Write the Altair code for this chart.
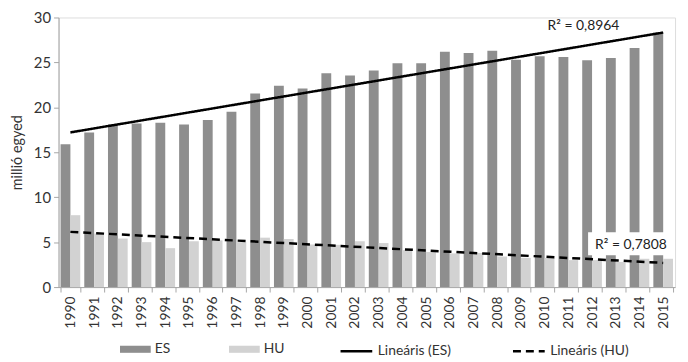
import altair as alt
import pandas as pd

years = list(range(1990, 2016))
es = [15.9, 17.2, 18.1, 18.2, 18.3, 18.1, 18.6, 19.5, 21.55, 22.4, 22.1, 23.8, 23.55,
      24.1, 24.9, 24.9, 26.2, 26.05, 26.3, 25.3, 25.7, 25.6, 25.25, 25.5, 26.6, 28.3]
hu = [8.0, 5.95, 5.4, 5.0, 4.33, 5.1, 5.2, 5.0, 5.5, 5.35, 4.75, 4.7, 5.1,
      4.9, 4.1, 3.9, 3.75, 3.8, 3.4, 3.25, 3.25, 3.0, 3.0, 2.8, 3.15, 3.15]
series = ["ES", "HU"]
trends = ["Lineáris (ES)", "Lineáris (HU)"]

ann_labels = ["R² = 0,8964", "R² = 0,7808"]
ann_years = [2010, 2012]
ann_values = [29.1, 4.7]

box_year = [2012]
box_year2 = [2015]
box_top = [6.1]
box_bottom = [3.55]

rows = []
for y, a, b in zip(years, es, hu):
    rows.append({"year": y, "value": a, "series": series[0], "trend": trends[0]})
    rows.append({"year": y, "value": b, "series": series[1], "trend": trends[1]})
df = pd.DataFrame(rows)
ann = pd.DataFrame({"label": ann_labels, "year": ann_years, "value": ann_values})
box = pd.DataFrame({"year": box_year, "year2": box_year2, "top": box_top, "bottom": box_bottom})

FONT = "Lato"
TXT = "#333333"
x_scale = alt.Scale(paddingInner=0.17, paddingOuter=0.085)
y_scale = alt.Scale(domain=[0, 30], nice=False, zero=True)

x_enc = alt.X(
    "year:O", scale=x_scale, title=None,
    axis=alt.Axis(labelAngle=-90, labelFontSize=14, labelColor=TXT, labelPadding=4,
                  tickBand="extent", tickSize=5, tickColor="#a6a6a6", domainColor="#a6a6a6",
                  labelFont=FONT),
)

bars = alt.Chart(df).mark_bar().encode(
    x=x_enc,
    xOffset=alt.XOffset("series:N", scale=alt.Scale(paddingInner=0, paddingOuter=0)),
    y=alt.Y("value:Q", scale=y_scale, title="millió egyed",
            axis=alt.Axis(values=[0, 5, 10, 15, 20, 25, 30], grid=False, labelFontSize=15,
                          labelColor=TXT, tickSize=5, tickColor="#a6a6a6",
                          domainColor="#a6a6a6", labelPadding=3, titleFontSize=14.5,
                          titleFontWeight="normal", titleColor=TXT, titleX=-41,
                          titleY=136, titleAngle=-90, titleBaseline="middle", titleAlign="center",
                          labelFont=FONT, titleFont=FONT)),
    color=alt.Color("series:N", scale=alt.Scale(domain=series, range=["#8e8e8e", "#d2d2d2"]),
                    legend=alt.Legend(orient="none", legendX=62, legendY=319, direction="horizontal",
                                      title=None, symbolType="M-1,-0.23H1V0.23H-1Z", symbolSize=961,
                                      symbolStrokeWidth=0, labelFontSize=14, labelOffset=4,
                                      columnPadding=59, padding=0, labelColor=TXT,
                                      labelFont=FONT)),
)

boxes = alt.Chart(box).mark_rect(color="white", xOffset=-4, x2Offset=2).encode(
    x=alt.X("year:O"), x2="year2", y=alt.Y("top:Q"), y2="bottom"
)

lines = alt.Chart(df).transform_regression(
    "year", "value", groupby=["trend"]
).mark_line(color="black", strokeWidth=2.5).encode(
    x=alt.X("year:O"),
    y=alt.Y("value:Q"),
    strokeDash=alt.StrokeDash("trend:N", scale=alt.Scale(domain=trends, range=[[1, 0], [8, 5]]),
                              legend=alt.Legend(orient="none", legendX=283, legendY=319,
                                                direction="horizontal", title=None,
                                                symbolType="stroke", symbolSize=1024,
                                                symbolStrokeWidth=2.5, symbolStrokeColor="black",
                                                labelFontSize=14, labelOffset=4, columnPadding=57,
                                                padding=0, labelColor=TXT, labelFont=FONT)),
)

texts = alt.Chart(ann).mark_text(align="left", baseline="middle", fontSize=14, color="#222222",
                                 font=FONT, dx=3).encode(
    x=alt.X("year:O"), y=alt.Y("value:Q"), text="label:N"
)

chart = alt.layer(bars, boxes, lines, texts).properties(
    width=622, height=272,
    autosize=alt.AutoSizeParams(type="none"),
    padding={"left": 51, "top": 8, "right": 5, "bottom": 72},
).configure_view(stroke=None).configure(font=FONT)

chart.save("out.html", embed_options={"renderer": "svg", "actions": False})
